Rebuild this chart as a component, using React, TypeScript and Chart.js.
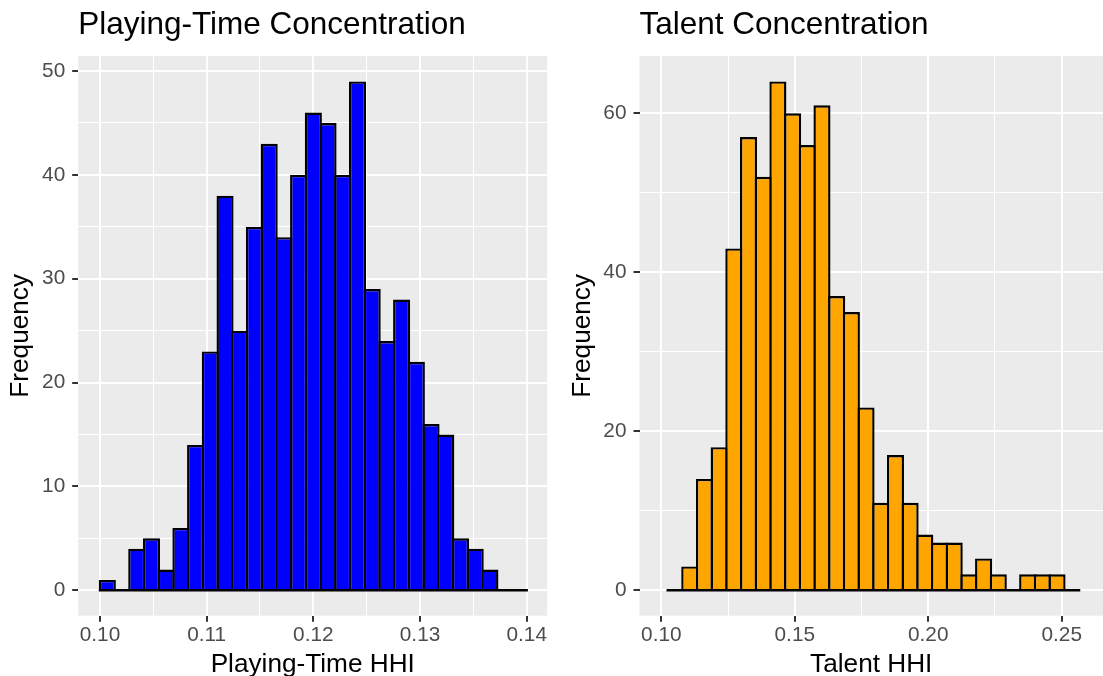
import React, { useEffect, useRef } from 'react';
import { Chart, registerables } from 'chart.js';

Chart.register(...registerables);

// ---- Data ----
const ptCenters = [
  0.10069, 0.102069, 0.103448, 0.104828, 0.106207, 0.107586, 0.108966, 0.110345,
  0.111724, 0.113103, 0.114483, 0.115862, 0.117241, 0.118621, 0.12, 0.121379,
  0.122759, 0.124138, 0.125517, 0.126897, 0.128276, 0.129655, 0.131034, 0.132414,
  0.133793, 0.135172, 0.136552, 0.137931, 0.13931,
];
const ptCounts = [
  1, 0, 4, 5, 2, 6, 14, 23, 38, 25, 35, 43, 34, 40, 46, 45, 40, 49, 29, 24, 28, 22,
  16, 15, 5, 4, 2, 0, 0,
];
const talentCenters = [
  0.105152, 0.110656, 0.11616, 0.121664, 0.127168, 0.132672, 0.138176, 0.14368,
  0.149184, 0.154688, 0.160192, 0.165696, 0.1712, 0.176704, 0.182208, 0.187712,
  0.193216, 0.19872, 0.204224, 0.209728, 0.215232, 0.220736, 0.22624, 0.231744,
  0.237248, 0.242752, 0.248256, 0.25376,
];
const talentCounts = [
  0, 3, 14, 18, 43, 57, 52, 64, 60, 56, 61, 37, 35, 23, 11, 17, 11, 7, 6, 6, 2, 4, 2,
  0, 2, 2, 2, 0,
];

const ptXTicks = [0.1, 0.11, 0.12, 0.13, 0.14];
const ptXMinor = [0.105, 0.115, 0.125, 0.135];
const ptYTicks = [0, 10, 20, 30, 40, 50];
const ptYMinor = [5, 15, 25, 35, 45];

const talentXTicks = [0.1, 0.15, 0.2, 0.25];
const talentXMinor = [0.125, 0.175, 0.225];
const talentYTicks = [0, 20, 40, 60];
const talentYMinor = [10, 30, 50];

const FONT = '"Liberation Sans", Arial, Helvetica, sans-serif';
const BORDER = 2.4;

type PanelProps = {
  title: string;
  xTitle: string;
  centers: number[];
  counts: number[];
  color: string;
  xMajor: number[];
  xMinor: number[];
  yMajor: number[];
  yMinor: number[];
  xMin: number;
  xMax: number;
  yAxisWidth: number;
  padRight: number;
  width: number;
  left: number;
};

const isIn = (arr: number[], v: number) => arr.some((a) => Math.abs(a - v) < 1e-9);
const tickVal = (c: any) => (c && c.tick ? c.tick.value : NaN);

function HistPanel(p: PanelProps) {
  const ref = useRef<HTMLCanvasElement | null>(null);
  useEffect(() => {
    if (!ref.current) return;
    const maxCount = Math.max(...p.counts);
    const half = (p.centers[1] - p.centers[0]) / 2;
    const binStart = p.centers[0] - half;
    const binEnd = p.centers[p.centers.length - 1] + half;

    const bgPlugin = {
      id: 'panelBg',
      beforeDraw(chart: any) {
        const { ctx, chartArea } = chart;
        ctx.save();
        ctx.fillStyle = '#EBEBEB';
        ctx.fillRect(chartArea.left, chartArea.top, chartArea.right - chartArea.left, chartArea.bottom - chartArea.top);
        ctx.restore();
      },
    };
    const basePlugin = {
      id: 'baseline',
      afterDatasetsDraw(chart: any) {
        const { ctx } = chart;
        const xs = chart.scales.x;
        const ys = chart.scales.y;
        const y0 = ys.getPixelForValue(0);
        ctx.save();
        ctx.strokeStyle = '#000000';
        ctx.lineWidth = BORDER;
        ctx.beginPath();
        ctx.moveTo(xs.getPixelForValue(binStart) - BORDER / 2, y0);
        ctx.lineTo(xs.getPixelForValue(binEnd) + BORDER / 2, y0);
        ctx.stroke();
        ctx.restore();
      },
    };

    const xAll = [...p.xMajor, ...p.xMinor].sort((a, b) => a - b);
    const yAll = [...p.yMajor, ...p.yMinor].sort((a, b) => a - b);

    const chart = new Chart(ref.current, {
      type: 'bar',
      data: {
        datasets: [
          {
            data: p.centers.map((c, i) => ({ x: c, y: p.counts[i] })),
            backgroundColor: p.color,
            borderColor: '#000000',
            borderWidth: BORDER,
            borderSkipped: 'start',
            barPercentage: 1.162,
            categoryPercentage: 1,
            inflateAmount: 0,
          } as any,
        ],
      },
      options: {
        responsive: false,
        animation: false,
        devicePixelRatio: 1,
        layout: { padding: { left: 0, right: p.padRight, top: 0, bottom: 0 } },
        plugins: {
          legend: { display: false },
          tooltip: { enabled: false },
          title: {
            display: true,
            text: p.title,
            align: 'start',
            fullSize: false,
            color: '#000000',
            font: { family: FONT, size: 31.5, weight: 'normal', lineHeight: 1.2 },
            padding: { top: 6.6, bottom: 11.6 },
          },
        },
        scales: {
          x: {
            type: 'linear',
            min: p.xMin,
            max: p.xMax,
            offset: false,
            afterBuildTicks: (s: any) => {
              s.ticks = xAll.map((v) => ({ value: v }));
            },
            afterFit: (s: any) => {
              s.height = 60.3;
            },
            border: { display: false },
            grid: {
              offset: false,
              color: '#FFFFFF',
              lineWidth: (c: any) => (isIn(p.xMajor, tickVal(c)) ? 2 : 1),
              tickColor: (c: any) => (isIn(p.xMajor, tickVal(c)) ? '#333333' : 'rgba(0,0,0,0)'),
              tickWidth: 2,
              tickLength: 6,
              drawTicks: true,
            },
            ticks: {
              autoSkip: false,
              maxRotation: 0,
              minRotation: 0,
              padding: 1.3,
              color: '#4D4D4D',
              font: { family: FONT, size: 20.8, lineHeight: 1.2 },
              callback: (v: any) => (isIn(p.xMajor, Number(v)) ? Number(v).toFixed(2) : ''),
            },
            title: {
              display: true,
              text: p.xTitle,
              color: '#000000',
              font: { family: FONT, size: 26.2, lineHeight: 0.85 },
              padding: { top: 0, bottom: 0.2 },
            },
          },
          y: {
            type: 'linear',
            min: -maxCount * 0.05,
            max: maxCount * 1.05,
            afterBuildTicks: (s: any) => {
              s.ticks = yAll.map((v) => ({ value: v }));
            },
            afterFit: (s: any) => {
              s.width = p.yAxisWidth;
            },
            border: { display: false },
            grid: {
              offset: false,
              color: '#FFFFFF',
              lineWidth: (c: any) => (isIn(p.yMajor, tickVal(c)) ? 2 : 1),
              tickColor: (c: any) => (isIn(p.yMajor, tickVal(c)) ? '#333333' : 'rgba(0,0,0,0)'),
              tickWidth: 2,
              tickLength: 6,
              drawTicks: true,
            },
            ticks: {
              autoSkip: false,
              padding: 7,
              color: '#4D4D4D',
              font: { family: FONT, size: 20.8, lineHeight: 1.2 },
              callback: (v: any) => (isIn(p.yMajor, Number(v)) ? String(v) : ''),
            },
            title: {
              display: true,
              text: 'Frequency',
              color: '#000000',
              font: { family: FONT, size: 26.2, lineHeight: 0.85 },
              padding: { top: 9.8, bottom: 0 },
            },
          },
        },
      },
      plugins: [bgPlugin, basePlugin],
    } as any);
    return () => chart.destroy();
  }, []);

  return (
    <canvas
      ref={ref}
      width={p.width}
      height={676}
      style={{ position: 'absolute', left: p.left, top: 0, width: p.width, height: 676, display: 'block' }}
    />
  );
}

export default function App() {
  return (
    <div style={{ position: 'absolute', left: 0, top: 0, width: 1103, height: 676, background: '#FFFFFF', overflow: 'hidden' }}>
      <HistPanel
        title="Playing-Time Concentration"
        xTitle="Playing-Time HHI"
        centers={ptCenters}
        counts={ptCounts}
        color="#0000FF"
        xMajor={ptXTicks}
        xMinor={ptXMinor}
        yMajor={ptYTicks}
        yMinor={ptYMinor}
        xMin={0.09796}
        xMax={0.14193}
        yAxisWidth={78.2}
        padRight={14.7}
        width={562}
        left={0}
      />
      <HistPanel
        title="Talent Concentration"
        xTitle="Talent HHI"
        centers={talentCenters}
        counts={talentCounts}
        color="#FFA500"
        xMajor={talentXTicks}
        xMinor={talentXMinor}
        yMajor={talentYTicks}
        yMinor={talentYMinor}
        xMin={0.09183}
        xMax={0.26547}
        yAxisWidth={77.5}
        padRight={0}
        width={541}
        left={562}
      />
    </div>
  );
}
